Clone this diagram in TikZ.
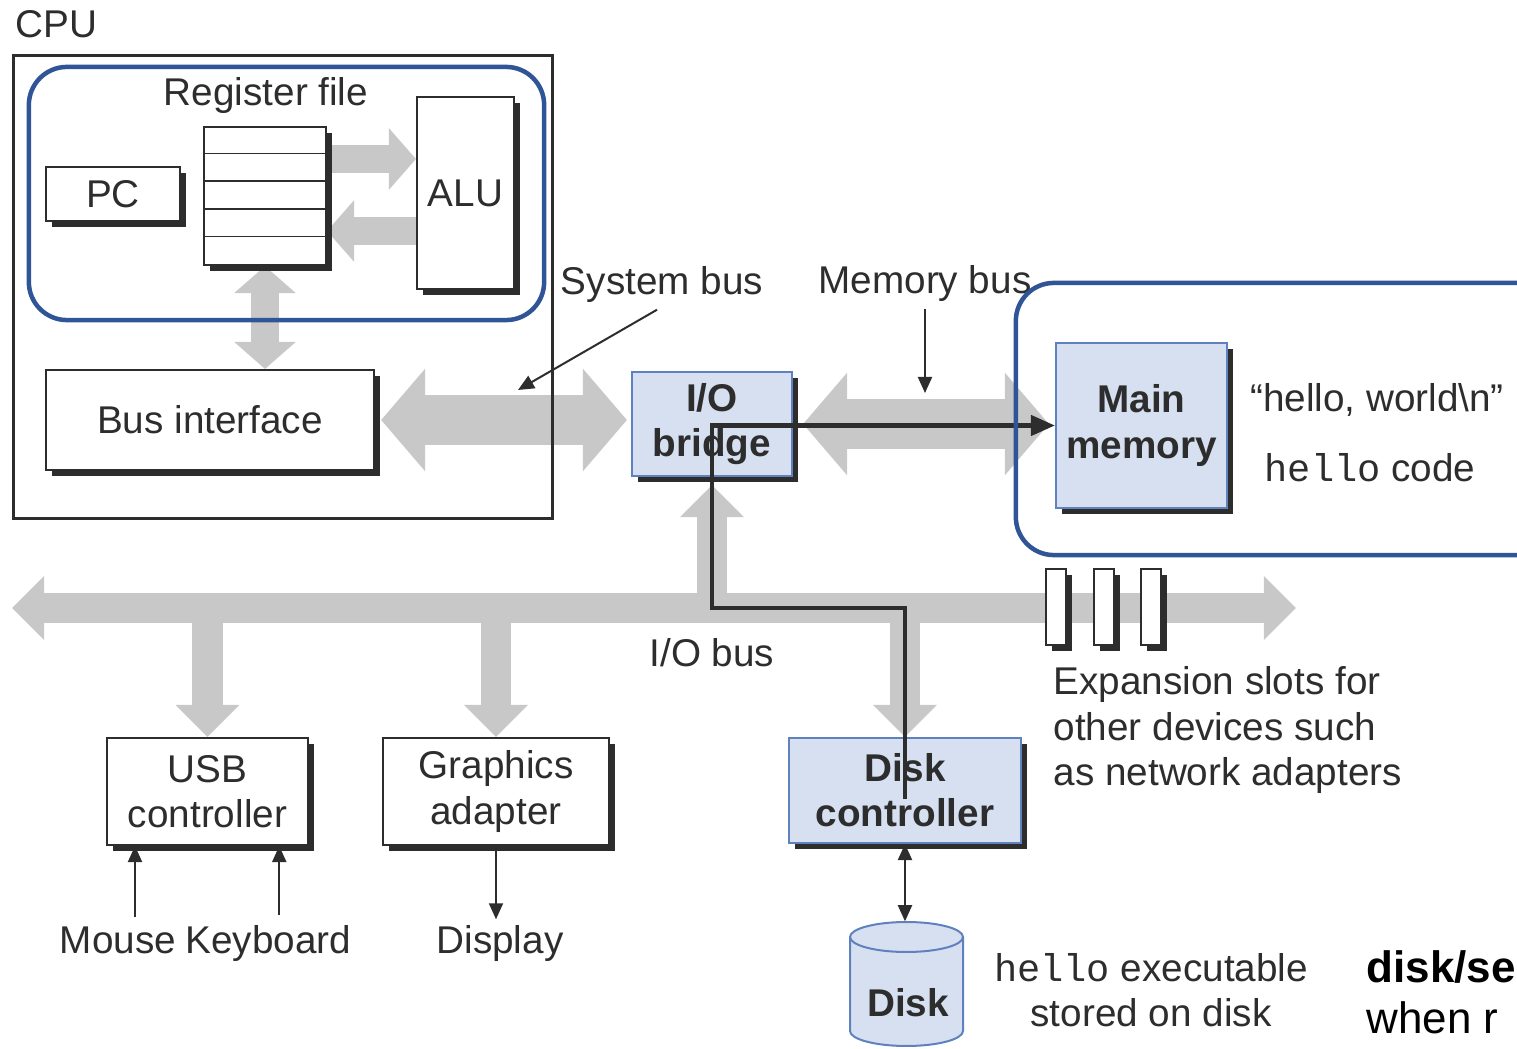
\documentclass[tikz,border=0pt]{standalone}
\usepackage{fontspec}
\setmainfont{Liberation Sans}
\setmonofont{Liberation Mono}
\usetikzlibrary{arrows.meta, positioning, shadows}
\definecolor{hiblue}{RGB}{47, 85, 151}
\definecolor{boxblue}{RGB}{214, 224, 241}
\definecolor{edgeblue}{RGB}{95, 130, 190}
\definecolor{busgray}{RGB}{200, 200, 200}
\definecolor{ink}{RGB}{45, 45, 45}
\pgfdeclarelayer{background}
\pgfsetlayers{background,main}
\tikzset{
  lbl/.style={font=\fontsize{11}{12.8}\selectfont, text=ink, align=center, inner sep=0pt},
  boldlbl/.style={lbl, font=\fontsize{11}{12.8}\selectfont\bfseries},
  hwbox/.style={lbl, draw=ink, line width=0.02cm, fill=white,
    drop shadow={shadow xshift=0.06cm, shadow yshift=-0.06cm, fill=ink, opacity=1}},
  bluebox/.style={hwbox, fill=boxblue, draw=edgeblue},
  gbus/.style={draw=busgray, line width=0.28cm, >={Triangle[width=0.6cm, length=0.27cm]}},
  wbus/.style={draw=busgray, line width=0.5cm, >={Triangle[width=1cm, length=0.44cm]}},
  iobus/.style={draw=busgray, line width=0.3cm, >={Triangle[width=0.62cm, length=0.32cm]}},
  pointer/.style={draw=ink, line width=0.02cm, >={Triangle[width=0.14cm, length=0.16cm]}},
  dataline/.style={draw=ink, line width=0.045cm, >={Triangle[width=0.2cm, length=0.24cm]}},
  hilite/.style={draw=hiblue, line width=0.045cm, rounded corners=0.38cm, inner sep=0pt},
  notetxt/.style={font=\fontsize{12.5}{15}\selectfont, inner sep=0pt, anchor=base west}
}

\begin{document}
\begin{tikzpicture}[x=0.01cm, y=-0.01cm]
  \useasboundingbox (0,0) rectangle (1517,1049);
  \clip (0,0) rectangle (1517,1049);

  % CPU chip
  \node (cpulbl) [lbl, anchor=base west] at (15,38) {CPU};
  \node (cpu) [draw=ink, line width=0.028cm, inner sep=0pt, minimum width=5.38cm, minimum height=4.63cm] at (283,287) {};
  \node (reglbl) [lbl] at (266,96) {Register file};
  \node (pc) [hwbox, minimum width=1.34cm, minimum height=0.54cm] at (113,194) {PC};
  \node (regs) [hwbox, minimum width=1.22cm, minimum height=1.38cm] at (265,196) {};
  \foreach \r in {1,...,4}
    \draw[ink, line width=0.015cm] ([yshift=-\r*0.276cm]regs.north west) -- ([yshift=-\r*0.276cm]regs.north east);
  \node (alu) [hwbox, minimum width=0.97cm, minimum height=1.92cm] at (465.5,193) {ALU};
  \node (busif) [hwbox, minimum width=3.28cm, minimum height=1cm] at (210,420) {Bus interface};

  % bridge and memory
  \node (bridge) [bluebox, minimum width=1.6cm, minimum height=1.04cm] at (712,424) {};
  \node (mem) [bluebox, boldlbl, minimum width=1.71cm, minimum height=1.65cm] at (1141.5,425.5) {Main\\memory};
  \node (hellostr) [lbl] at (1377,400) {“hello, world\textbackslash n”};
  \node (hellocode) [lbl] at (1370,468) {\texttt{hello} code};
  \node (sysbus) [lbl] at (662,285) {System bus};
  \node (membus) [lbl] at (925,284) {Memory bus};
  \coordinate (sysbustip) at (518,390);
  \coordinate (membustip) at (925,393);

  % I/O devices
  \node (usb) [hwbox, minimum width=2.01cm, minimum height=1.07cm] at (207.5,791.5) {USB\\controller};
  \node (graphics) [hwbox, minimum width=2.26cm, minimum height=1.07cm] at (496,791.5) {Graphics\\adapter};
  \node (diskc) [bluebox, minimum width=2.32cm, minimum height=1.05cm] at (905,790.5) {};
  \foreach \x/\n in {1056/slotA, 1104/slotB, 1151/slotC}
    \node (\n) [hwbox, minimum width=0.2cm, minimum height=0.76cm] at (\x,607) {};
  \node (slots) [lbl, align=left, anchor=west] at (1053,730) {Expansion slots for\\other devices such\\as network adapters};
  \node (iobuslbl) [lbl] at (712,653) {I/O bus};
  \node (mouse) [lbl, anchor=base] at (118,954) {Mouse};
  \node (kbd) [lbl, right=0.08cm of mouse.base east, anchor=base west] {Keyboard};
  \node (display) [lbl, anchor=base] at (500,954) {Display};

  % disk drum
  \node (disk) [inner sep=0pt, minimum width=1.13cm, minimum height=1.26cm] at (906.5,985) {};
  \filldraw[fill=boxblue, draw=edgeblue, line width=0.02cm]
    (850,937) -- (850,1031) arc[start angle=180, end angle=0, x radius=56.5, y radius=15]
    -- (963,937) arc[start angle=0, end angle=-180, x radius=56.5, y radius=15] -- cycle;
  \draw[edgeblue, line width=0.02cm] (850,937) arc[start angle=180, end angle=0, x radius=56.5, y radius=15];
  \node (disktxt) [boldlbl] at (908,1003) {Disk};
  \node (hellodisk) [lbl] at (1151,990) {\texttt{hello} executable\\stored on disk};

  % gray buses
  \begin{pgfonlayer}{background}
    \draw[gbus, ->] ([yshift=0.37cm]regs.east) -- ([yshift=0.37cm]regs.east -| alu.west);
    \draw[gbus, ->] ([yshift=-0.38cm]alu.west) -- ([yshift=-0.38cm]alu.west -| regs.east);
    \draw[gbus, <->] (regs.south) -- (busif.north -| regs.south);
    \draw[wbus, <->, shorten <=0.06cm, shorten >=0.04cm] (busif.east) -- (busif.east -| bridge.west);
    \draw[wbus, <->, shorten <=0.1cm, shorten >=0.06cm] (bridge.east) -- (bridge.east -| mem.west);
    \coordinate (busL) at (12,608);
    \coordinate (busR) at (1296,608);
    \draw[iobus, <->] (busL) -- (busR);
    \draw[iobus, ->] (usb.north |- busL) -- (usb.north);
    \draw[iobus, ->] (graphics.north |- busL) -- (graphics.north);
    \draw[iobus, ->] (diskc.north |- busL) -- (diskc.north);
    \draw[iobus, ->, shorten >=0.08cm] (bridge.south |- busL) -- (bridge.south);
  \end{pgfonlayer}

  % pointers
  \draw[pointer, ->] ([xshift=-0.05cm, yshift=-0.06cm]sysbus.south) -- (sysbustip);
  \draw[pointer, ->, shorten <=0.06cm] (membus.south) -- (membustip);
  \draw[pointer, ->, shorten <=0.1cm] ([xshift=0.17cm]mouse.north) -- ([xshift=0.17cm]mouse.north |- usb.south);
  \draw[pointer, ->, shorten <=0.1cm] ([xshift=0.11cm]kbd.north) -- ([xshift=0.11cm]kbd.north |- usb.south);
  \draw[pointer, ->, shorten >=0.06cm] (graphics.south) -- (graphics.south |- display.north);
  \draw[pointer, <->] (diskc.south) -- (diskc.south |- disk.north);

  % hello data path
  \draw[dataline, ->] ([yshift=-0.08cm]diskc.center) |- (bridge.center |- busL) |- (mem.west);
  \node (bridgetxt) [boldlbl] at (bridge.center) {I/O\\bridge};
  \node (diskctxt) [boldlbl] at (diskc.center) {Disk\\controller};

  % highlights
  \node (cpuhl) [hilite, minimum width=5.15cm, minimum height=2.53cm] at (286.5,193.5) {};
  \node (memhl) [hilite, minimum width=5.44cm, minimum height=2.72cm] at (1288,419) {};
  \node (note) [notetxt, font=\fontsize{12.5}{15}\selectfont\bfseries] at (1366,983) {disk/se};
  \node (note2) [notetxt] at (1366,1034) {when r};
\end{tikzpicture}
\end{document}
